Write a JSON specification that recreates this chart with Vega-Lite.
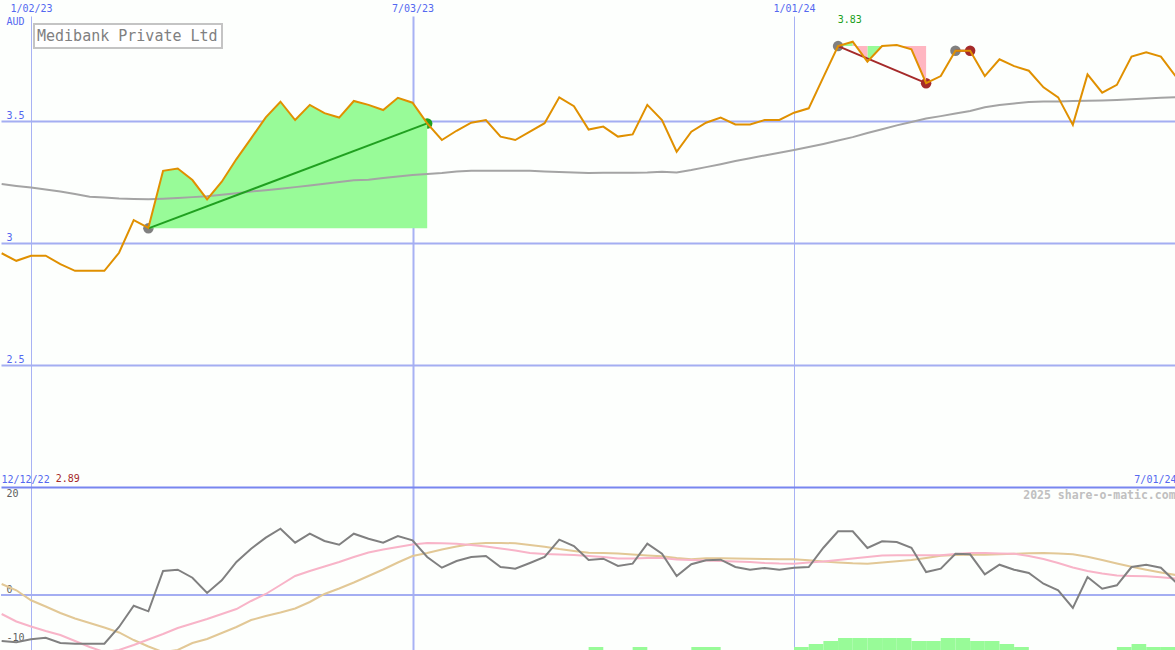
{
  "$schema": "https://vega.github.io/schema/vega-lite/v6.json",
  "padding": 0,
  "background": "#fdfffd",
  "spacing": 0,
  "bounds": "flush",
  "config": {
    "view": {"stroke": null},
    "font": "DejaVu Sans Mono",
    "axis": {"minExtent": 0, "labelFont": "DejaVu Sans Mono", "titleFont": "DejaVu Sans Mono", "ticks": false, "tickSize": 0, "domain": false},
    "legend": {"strokeWidth": 2}
  },
  "datasets": {
    "price": [
      {"date": "2022-12-19", "price": 2.958, "ma": 3.242},
      {"date": "2022-12-26", "price": 2.927, "ma": 3.234},
      {"date": "2023-01-02", "price": 2.948, "ma": 3.227},
      {"date": "2023-01-09", "price": 2.948, "ma": 3.219},
      {"date": "2023-01-16", "price": 2.913, "ma": 3.211},
      {"date": "2023-01-23", "price": 2.886, "ma": 3.201},
      {"date": "2023-01-30", "price": 2.886, "ma": 3.190},
      {"date": "2023-02-06", "price": 2.886, "ma": 3.186},
      {"date": "2023-02-13", "price": 2.960, "ma": 3.182},
      {"date": "2023-02-20", "price": 3.094, "ma": 3.180},
      {"date": "2023-02-27", "price": 3.062, "ma": 3.179},
      {"date": "2023-03-06", "price": 3.296, "ma": 3.181},
      {"date": "2023-03-13", "price": 3.305, "ma": 3.184},
      {"date": "2023-03-20", "price": 3.258, "ma": 3.188},
      {"date": "2023-03-27", "price": 3.179, "ma": 3.192},
      {"date": "2023-04-03", "price": 3.251, "ma": 3.198},
      {"date": "2023-04-10", "price": 3.344, "ma": 3.204},
      {"date": "2023-04-17", "price": 3.429, "ma": 3.211},
      {"date": "2023-04-24", "price": 3.515, "ma": 3.216},
      {"date": "2023-05-01", "price": 3.579, "ma": 3.222},
      {"date": "2023-05-08", "price": 3.504, "ma": 3.229},
      {"date": "2023-05-15", "price": 3.566, "ma": 3.236},
      {"date": "2023-05-22", "price": 3.532, "ma": 3.243},
      {"date": "2023-05-29", "price": 3.514, "ma": 3.250},
      {"date": "2023-06-05", "price": 3.582, "ma": 3.257},
      {"date": "2023-06-12", "price": 3.566, "ma": 3.259},
      {"date": "2023-06-19", "price": 3.545, "ma": 3.266},
      {"date": "2023-06-26", "price": 3.595, "ma": 3.273},
      {"date": "2023-07-03", "price": 3.575, "ma": 3.279},
      {"date": "2023-07-10", "price": 3.490, "ma": 3.283},
      {"date": "2023-07-17", "price": 3.422, "ma": 3.287},
      {"date": "2023-07-24", "price": 3.460, "ma": 3.293},
      {"date": "2023-07-31", "price": 3.493, "ma": 3.296},
      {"date": "2023-08-07", "price": 3.504, "ma": 3.296},
      {"date": "2023-08-14", "price": 3.436, "ma": 3.296},
      {"date": "2023-08-21", "price": 3.422, "ma": 3.296},
      {"date": "2023-08-28", "price": 3.456, "ma": 3.296},
      {"date": "2023-09-04", "price": 3.491, "ma": 3.293},
      {"date": "2023-09-11", "price": 3.597, "ma": 3.291},
      {"date": "2023-09-18", "price": 3.561, "ma": 3.289},
      {"date": "2023-09-25", "price": 3.465, "ma": 3.287},
      {"date": "2023-10-02", "price": 3.477, "ma": 3.288},
      {"date": "2023-10-09", "price": 3.436, "ma": 3.288},
      {"date": "2023-10-16", "price": 3.445, "ma": 3.288},
      {"date": "2023-10-23", "price": 3.566, "ma": 3.289},
      {"date": "2023-10-30", "price": 3.504, "ma": 3.292},
      {"date": "2023-11-06", "price": 3.374, "ma": 3.289},
      {"date": "2023-11-13", "price": 3.456, "ma": 3.299},
      {"date": "2023-11-20", "price": 3.493, "ma": 3.311},
      {"date": "2023-11-27", "price": 3.514, "ma": 3.323},
      {"date": "2023-12-04", "price": 3.486, "ma": 3.336},
      {"date": "2023-12-11", "price": 3.486, "ma": 3.347},
      {"date": "2023-12-18", "price": 3.504, "ma": 3.359},
      {"date": "2023-12-25", "price": 3.504, "ma": 3.370},
      {"date": "2024-01-01", "price": 3.534, "ma": 3.381},
      {"date": "2024-01-08", "price": 3.552, "ma": 3.393},
      {"date": "2024-01-15", "price": 3.680, "ma": 3.406},
      {"date": "2024-01-22", "price": 3.807, "ma": 3.420},
      {"date": "2024-01-29", "price": 3.825, "ma": 3.434},
      {"date": "2024-02-05", "price": 3.743, "ma": 3.451},
      {"date": "2024-02-12", "price": 3.807, "ma": 3.466},
      {"date": "2024-02-19", "price": 3.811, "ma": 3.482},
      {"date": "2024-02-26", "price": 3.794, "ma": 3.496},
      {"date": "2024-03-04", "price": 3.655, "ma": 3.510},
      {"date": "2024-03-11", "price": 3.684, "ma": 3.520},
      {"date": "2024-03-18", "price": 3.788, "ma": 3.531},
      {"date": "2024-03-25", "price": 3.788, "ma": 3.541},
      {"date": "2024-04-01", "price": 3.684, "ma": 3.556},
      {"date": "2024-04-08", "price": 3.753, "ma": 3.566},
      {"date": "2024-04-15", "price": 3.725, "ma": 3.572},
      {"date": "2024-04-22", "price": 3.706, "ma": 3.578},
      {"date": "2024-04-29", "price": 3.638, "ma": 3.580},
      {"date": "2024-05-06", "price": 3.597, "ma": 3.580},
      {"date": "2024-05-13", "price": 3.484, "ma": 3.582},
      {"date": "2024-05-20", "price": 3.691, "ma": 3.583},
      {"date": "2024-05-27", "price": 3.616, "ma": 3.584},
      {"date": "2024-06-03", "price": 3.648, "ma": 3.586},
      {"date": "2024-06-10", "price": 3.764, "ma": 3.589},
      {"date": "2024-06-17", "price": 3.782, "ma": 3.592},
      {"date": "2024-06-24", "price": 3.764, "ma": 3.595},
      {"date": "2024-07-01", "price": 3.684, "ma": 3.597}
    ],
    "fill1": [
      {"date": "2023-02-27", "price": 3.062},
      {"date": "2023-03-06", "price": 3.296},
      {"date": "2023-03-13", "price": 3.305},
      {"date": "2023-03-20", "price": 3.258},
      {"date": "2023-03-27", "price": 3.179},
      {"date": "2023-04-03", "price": 3.251},
      {"date": "2023-04-10", "price": 3.344},
      {"date": "2023-04-17", "price": 3.429},
      {"date": "2023-04-24", "price": 3.515},
      {"date": "2023-05-01", "price": 3.579},
      {"date": "2023-05-08", "price": 3.504},
      {"date": "2023-05-15", "price": 3.566},
      {"date": "2023-05-22", "price": 3.532},
      {"date": "2023-05-29", "price": 3.514},
      {"date": "2023-06-05", "price": 3.582},
      {"date": "2023-06-12", "price": 3.566},
      {"date": "2023-06-19", "price": 3.545},
      {"date": "2023-06-26", "price": 3.595},
      {"date": "2023-07-03", "price": 3.575},
      {"date": "2023-07-10", "price": 3.490}
    ],
    "fill2": [
      {"seg": "a", "fill": "up", "date": "2024-01-22", "price": 3.807},
      {"seg": "a", "fill": "up", "date": "2024-01-29", "price": 3.825},
      {"seg": "b", "fill": "down", "date": "2024-01-29", "price": 3.825},
      {"seg": "b", "fill": "down", "date": "2024-02-05", "price": 3.743},
      {"seg": "c", "fill": "up", "date": "2024-02-05", "price": 3.743},
      {"seg": "c", "fill": "up", "date": "2024-02-12", "price": 3.807},
      {"seg": "c", "fill": "up", "date": "2024-02-19", "price": 3.811},
      {"seg": "d", "fill": "down", "date": "2024-02-19", "price": 3.811},
      {"seg": "d", "fill": "down", "date": "2024-02-26", "price": 3.794},
      {"seg": "d", "fill": "down", "date": "2024-03-04", "price": 3.655}
    ],
    "trades": [
      {"trade": "1", "role": "entry", "result": "win", "date": "2023-02-27", "price": 3.06},
      {"trade": "1", "role": "exit", "result": "win", "date": "2023-07-10", "price": 3.49},
      {"trade": "2", "role": "entry", "result": "loss", "date": "2024-01-22", "price": 3.807},
      {"trade": "2", "role": "exit", "result": "loss", "date": "2024-03-04", "price": 3.655},
      {"trade": "3", "role": "entry", "result": "loss", "date": "2024-03-18", "price": 3.788},
      {"trade": "3", "role": "exit", "result": "loss", "date": "2024-03-25", "price": 3.788}
    ],
    "peak": [
      {"date": "2024-01-29", "price": 3.83, "label": "3.83"}
    ],
    "osc": [
      {"date": "2022-12-19", "osc": -9.58, "sig": -3.96, "slow": 2.29},
      {"date": "2022-12-26", "osc": -9.85, "sig": -5.52, "slow": 0.98},
      {"date": "2023-01-02", "osc": -9.23, "sig": -6.56, "slow": -1.1},
      {"date": "2023-01-09", "osc": -8.9, "sig": -7.5, "slow": -2.4},
      {"date": "2023-01-16", "osc": -10.0, "sig": -8.33, "slow": -3.75},
      {"date": "2023-01-23", "osc": -10.15, "sig": -9.58, "slow": -4.9},
      {"date": "2023-01-30", "osc": -10.15, "sig": -10.83, "slow": -5.83},
      {"date": "2023-02-06", "osc": -10.15, "sig": -11.9, "slow": -6.77},
      {"date": "2023-02-13", "osc": -6.67, "sig": -11.46, "slow": -7.81},
      {"date": "2023-02-20", "osc": -2.23, "sig": -10.42, "slow": -9.38},
      {"date": "2023-02-27", "osc": -3.4, "sig": -9.27, "slow": -10.73},
      {"date": "2023-03-06", "osc": 5.0, "sig": -8.13, "slow": -11.9},
      {"date": "2023-03-13", "osc": 5.27, "sig": -6.88, "slow": -11.46},
      {"date": "2023-03-20", "osc": 3.6, "sig": -5.94, "slow": -10.0},
      {"date": "2023-03-27", "osc": 0.42, "sig": -5.0, "slow": -9.17},
      {"date": "2023-04-03", "osc": 3.06, "sig": -3.96, "slow": -7.92},
      {"date": "2023-04-10", "osc": 6.88, "sig": -2.92, "slow": -6.67},
      {"date": "2023-04-17", "osc": 9.65, "sig": -1.25, "slow": -5.21},
      {"date": "2023-04-24", "osc": 11.94, "sig": 0.21, "slow": -4.38},
      {"date": "2023-05-01", "osc": 13.81, "sig": 2.08, "slow": -3.65},
      {"date": "2023-05-08", "osc": 10.9, "sig": 3.96, "slow": -2.81},
      {"date": "2023-05-15", "osc": 12.77, "sig": 5.0, "slow": -1.46},
      {"date": "2023-05-22", "osc": 11.25, "sig": 5.94, "slow": 0.21},
      {"date": "2023-05-29", "osc": 10.48, "sig": 6.88, "slow": 1.35},
      {"date": "2023-06-05", "osc": 12.77, "sig": 7.92, "slow": 2.6},
      {"date": "2023-06-12", "osc": 11.73, "sig": 8.85, "slow": 3.96},
      {"date": "2023-06-19", "osc": 10.9, "sig": 9.48, "slow": 5.31},
      {"date": "2023-06-26", "osc": 12.29, "sig": 10.0, "slow": 6.77},
      {"date": "2023-07-03", "osc": 11.4, "sig": 10.52, "slow": 8.13},
      {"date": "2023-07-10", "osc": 7.92, "sig": 10.83, "slow": 8.75},
      {"date": "2023-07-17", "osc": 5.69, "sig": 10.77, "slow": 9.48},
      {"date": "2023-07-24", "osc": 7.08, "sig": 10.67, "slow": 10.1},
      {"date": "2023-07-31", "osc": 7.92, "sig": 10.42, "slow": 10.63},
      {"date": "2023-08-07", "osc": 8.13, "sig": 10.1, "slow": 10.83},
      {"date": "2023-08-14", "osc": 5.83, "sig": 9.69, "slow": 10.83},
      {"date": "2023-08-21", "osc": 5.48, "sig": 9.27, "slow": 10.79},
      {"date": "2023-08-28", "osc": 6.67, "sig": 8.75, "slow": 10.42},
      {"date": "2023-09-04", "osc": 7.92, "sig": 8.54, "slow": 10.06},
      {"date": "2023-09-11", "osc": 11.52, "sig": 8.44, "slow": 9.58},
      {"date": "2023-09-18", "osc": 10.21, "sig": 8.33, "slow": 9.17},
      {"date": "2023-09-25", "osc": 7.3, "sig": 8.13, "slow": 8.81},
      {"date": "2023-10-02", "osc": 7.56, "sig": 7.92, "slow": 8.75},
      {"date": "2023-10-09", "osc": 6.04, "sig": 7.6, "slow": 8.65},
      {"date": "2023-10-16", "osc": 6.52, "sig": 7.6, "slow": 8.44},
      {"date": "2023-10-23", "osc": 10.69, "sig": 7.71, "slow": 8.23},
      {"date": "2023-10-30", "osc": 8.6, "sig": 7.71, "slow": 8.06},
      {"date": "2023-11-06", "osc": 3.96, "sig": 7.4, "slow": 7.71},
      {"date": "2023-11-13", "osc": 6.4, "sig": 7.29, "slow": 7.44},
      {"date": "2023-11-20", "osc": 7.23, "sig": 7.19, "slow": 7.65},
      {"date": "2023-11-27", "osc": 7.35, "sig": 7.08, "slow": 7.65},
      {"date": "2023-12-04", "osc": 5.83, "sig": 6.98, "slow": 7.6},
      {"date": "2023-12-11", "osc": 5.27, "sig": 6.88, "slow": 7.56},
      {"date": "2023-12-18", "osc": 5.63, "sig": 6.67, "slow": 7.5},
      {"date": "2023-12-25", "osc": 5.27, "sig": 6.56, "slow": 7.46},
      {"date": "2024-01-01", "osc": 5.69, "sig": 6.52, "slow": 7.44},
      {"date": "2024-01-08", "osc": 5.83, "sig": 6.77, "slow": 7.23},
      {"date": "2024-01-15", "osc": 9.85, "sig": 6.98, "slow": 6.98},
      {"date": "2024-01-22", "osc": 13.27, "sig": 7.29, "slow": 6.77},
      {"date": "2024-01-29", "osc": 13.27, "sig": 7.6, "slow": 6.6},
      {"date": "2024-02-05", "osc": 9.79, "sig": 7.92, "slow": 6.52},
      {"date": "2024-02-12", "osc": 11.19, "sig": 8.23, "slow": 6.77},
      {"date": "2024-02-19", "osc": 11.04, "sig": 8.27, "slow": 7.02},
      {"date": "2024-02-26", "osc": 9.85, "sig": 8.27, "slow": 7.29},
      {"date": "2024-03-04", "osc": 4.79, "sig": 8.27, "slow": 7.71},
      {"date": "2024-03-11", "osc": 5.48, "sig": 8.27, "slow": 8.17},
      {"date": "2024-03-18", "osc": 8.6, "sig": 8.54, "slow": 8.33},
      {"date": "2024-03-25", "osc": 8.48, "sig": 8.75, "slow": 8.38},
      {"date": "2024-04-01", "osc": 4.31, "sig": 8.75, "slow": 8.4},
      {"date": "2024-04-08", "osc": 6.31, "sig": 8.65, "slow": 8.48},
      {"date": "2024-04-15", "osc": 5.27, "sig": 8.6, "slow": 8.58},
      {"date": "2024-04-22", "osc": 4.58, "sig": 8.13, "slow": 8.69},
      {"date": "2024-04-29", "osc": 2.35, "sig": 7.5, "slow": 8.73},
      {"date": "2024-05-06", "osc": 0.98, "sig": 6.67, "slow": 8.63},
      {"date": "2024-05-13", "osc": -2.71, "sig": 5.73, "slow": 8.5},
      {"date": "2024-05-20", "osc": 3.75, "sig": 5.0, "slow": 7.96},
      {"date": "2024-05-27", "osc": 1.31, "sig": 4.48, "slow": 7.29},
      {"date": "2024-06-03", "osc": 2.02, "sig": 4.06, "slow": 6.56},
      {"date": "2024-06-10", "osc": 5.83, "sig": 3.96, "slow": 5.9},
      {"date": "2024-06-17", "osc": 6.31, "sig": 3.92, "slow": 5.27},
      {"date": "2024-06-24", "osc": 5.69, "sig": 3.69, "slow": 4.69},
      {"date": "2024-07-01", "osc": 2.71, "sig": 3.44, "slow": 4.17}
    ],
    "bars": [
      {"start": "2023-09-25", "end": "2023-10-02", "level": 1},
      {"start": "2023-10-16", "end": "2023-10-23", "level": 1},
      {"start": "2023-11-13", "end": "2023-11-20", "level": 1},
      {"start": "2023-11-20", "end": "2023-11-27", "level": 1},
      {"start": "2024-01-01", "end": "2024-01-08", "level": 1},
      {"start": "2024-01-08", "end": "2024-01-15", "level": 2},
      {"start": "2024-01-15", "end": "2024-01-22", "level": 3},
      {"start": "2024-01-22", "end": "2024-01-29", "level": 4},
      {"start": "2024-01-29", "end": "2024-02-05", "level": 4},
      {"start": "2024-02-05", "end": "2024-02-12", "level": 4},
      {"start": "2024-02-12", "end": "2024-02-19", "level": 4},
      {"start": "2024-02-19", "end": "2024-02-26", "level": 4},
      {"start": "2024-02-26", "end": "2024-03-04", "level": 3},
      {"start": "2024-03-04", "end": "2024-03-11", "level": 3},
      {"start": "2024-03-11", "end": "2024-03-18", "level": 4},
      {"start": "2024-03-18", "end": "2024-03-25", "level": 4},
      {"start": "2024-03-25", "end": "2024-04-01", "level": 3},
      {"start": "2024-04-01", "end": "2024-04-08", "level": 3},
      {"start": "2024-04-08", "end": "2024-04-15", "level": 2},
      {"start": "2024-04-15", "end": "2024-04-22", "level": 1},
      {"start": "2024-06-03", "end": "2024-06-10", "level": 1},
      {"start": "2024-06-10", "end": "2024-06-17", "level": 2},
      {"start": "2024-06-17", "end": "2024-06-24", "level": 1},
      {"start": "2024-06-24", "end": "2024-07-01", "level": 1}
    ],
    "notes": [
      {"date": "2022-12-19", "label": "2.89"}
    ],
    "credit": [
      {"date": "2024-07-01", "label": "2025 share-o-matic.com"}
    ],
    "zero": [
      {"level": 0}
    ]
  },
  "vconcat": [
    {
      "width": 1175,
      "height": 471,
      "encoding": {
        "x": {
          "field": "date", "type": "temporal",
          "scale": {"type": "utc", "domain": [{"year": 2022, "month": 12, "date": 18, "hours": 16, "minutes": 30, "utc": true}, {"year": 2024, "month": 7, "date": 1, "hours": 5, "utc": true}]},
          "axis": {
            "orient": "top",
            "values": [{"year": 2023, "month": 1, "date": 2, "utc": true}, {"year": 2023, "month": 7, "date": 3, "utc": true}, {"year": 2024, "month": 1, "date": 1, "utc": true}],
            "format": "%-m/%d/%y",
            "labelColor": "#5468f0", "labelFontSize": 10, "labelPadding": 3, "labelFont": "DejaVu Sans Mono",
            "grid": true, "gridColor": "#a8b2f4",
            "gridWidth": {"condition": {"test": "utcmonth(datum.value) === 6", "value": 2}, "value": 1},
            "domain": false, "ticks": false, "title": null, "minExtent": 16
          }
        },
        "y": {
          "field": "price", "type": "quantitative",
          "scale": {"domain": [2.0, 3.9303], "nice": false, "zero": false},
          "axis": {
            "orient": "left", "values": [2.5, 3, 3.5], "labelExpr": "'' + datum.value",
            "labelAlign": "left", "labelBaseline": "bottom", "labelPadding": -5,
            "labelColor": "#5468f0", "labelFontSize": 10, "labelFont": "DejaVu Sans Mono",
            "grid": true, "gridColor": "#a4aef2", "gridWidth": 2,
            "domain": false, "ticks": false, "minExtent": 0,
            "title": "AUD", "titleAngle": 0, "titleX": 5, "titleY": 8, "titleAlign": "left", "titleBaseline": "alphabetic",
            "titleColor": "#5468f0", "titleFontSize": 10, "titleFontWeight": "normal", "titleFont": "DejaVu Sans Mono"
          }
        }
      },
      "layer": [
        {
          "data": {"name": "trades"},
          "transform": [{"filter": "datum.role === 'entry'"}],
          "mark": {"type": "circle", "size": 110, "color": "#808080", "opacity": 1}
        },
        {
          "data": {"name": "trades"},
          "transform": [{"filter": "datum.role === 'exit' && datum.result === 'win'"}],
          "mark": {"type": "circle", "size": 110, "color": "#20a020", "opacity": 1}
        },
        {
          "data": {"name": "trades"},
          "transform": [{"filter": "datum.role === 'exit' && datum.result === 'loss'"}],
          "mark": {"type": "circle", "size": 110, "color": "#a52a2a", "opacity": 1}
        },
        {
          "data": {"name": "fill1"},
          "mark": {"type": "area", "color": "#98fb98", "opacity": 1, "clip": true},
          "encoding": {"y2": {"datum": 3.06}}
        },
        {
          "data": {"name": "fill2"},
          "transform": [{"filter": "datum.fill === 'up'"}],
          "mark": {"type": "area", "color": "#98fb98", "opacity": 1, "clip": true},
          "encoding": {"y2": {"datum": 3.807}, "detail": {"field": "seg", "type": "nominal"}}
        },
        {
          "data": {"name": "fill2"},
          "transform": [{"filter": "datum.fill === 'down'"}],
          "mark": {"type": "area", "color": "#ffb6c1", "opacity": 1, "clip": true},
          "encoding": {"y2": {"datum": 3.807}, "detail": {"field": "seg", "type": "nominal"}}
        },
        {
          "data": {"name": "price"},
          "mark": {"type": "line", "color": "#a4a4a4", "strokeWidth": 2, "clip": true},
          "encoding": {
            "y": {
              "field": "ma", "type": "quantitative",
              "scale": {"domain": [2.0, 3.9303], "nice": false, "zero": false},
              "axis": {
                "orient": "left", "values": [2.5, 3, 3.5], "labelExpr": "'' + datum.value",
                "labelAlign": "left", "labelBaseline": "bottom", "labelPadding": -5,
                "labelColor": "#5468f0", "labelFontSize": 10, "labelFont": "DejaVu Sans Mono",
                "grid": true, "gridColor": "#a4aef2", "gridWidth": 2,
                "domain": false, "ticks": false, "minExtent": 0,
                "title": "AUD", "titleAngle": 0, "titleX": 5, "titleY": 8, "titleAlign": "left", "titleBaseline": "alphabetic",
                "titleColor": "#5468f0", "titleFontSize": 10, "titleFontWeight": "normal", "titleFont": "DejaVu Sans Mono"
              }
            }
          }
        },
        {
          "data": {"name": "trades"},
          "transform": [{"filter": "datum.result === 'win'"}],
          "mark": {"type": "line", "color": "#20a020", "strokeWidth": 2, "clip": true},
          "encoding": {"detail": {"field": "trade", "type": "nominal"}}
        },
        {
          "data": {"name": "trades"},
          "transform": [{"filter": "datum.result === 'loss'"}],
          "mark": {"type": "line", "color": "#a52a2a", "strokeWidth": 2, "clip": true},
          "encoding": {"detail": {"field": "trade", "type": "nominal"}}
        },
        {
          "data": {"name": "price"},
          "mark": {"type": "line", "strokeWidth": 2, "clip": true},
          "encoding": {
            "color": {
              "datum": "Medibank Private Ltd",
              "type": "nominal",
              "scale": {"range": ["#e09000"]},
              "legend": {
                "orient": "none", "legendX": 33, "legendY": 8, "title": null,
                "labelFont": "DejaVu Sans Mono", "labelFontSize": 15, "labelColor": "#808080", "labelLimit": 0,
                "symbolSize": 0, "symbolStrokeWidth": 0, "symbolOpacity": 0, "labelOffset": -16,
                "padding": 4, "strokeColor": "#c4c4c4", "fillColor": "#ffffff"
              }
            }
          }
        },
        {
          "data": {"name": "peak"},
          "mark": {"type": "text", "color": "#20a020", "fontSize": 10, "font": "DejaVu Sans Mono", "dy": -20, "dx": -3, "baseline": "middle", "align": "center"},
          "encoding": {"text": {"field": "label", "type": "nominal"}}
        }
      ]
    },
    {
      "width": 1175,
      "height": 163,
      "resolve": {"scale": {"y": "independent"}, "axis": {"x": "independent", "y": "independent"}},
      "layer": [
        {
          "data": {"name": "bars"},
          "mark": {"type": "rect", "color": "#98fb98", "opacity": 1},
          "encoding": {
            "x": {
              "field": "start", "type": "temporal",
              "scale": {"type": "utc", "domain": [{"year": 2022, "month": 12, "date": 18, "hours": 16, "minutes": 30, "utc": true}, {"year": 2024, "month": 7, "date": 1, "hours": 5, "utc": true}]},
              "axis": {
                "orient": "top",
                "values": [{"year": 2023, "month": 1, "date": 2, "utc": true}, {"year": 2023, "month": 7, "date": 3, "utc": true}, {"year": 2024, "month": 1, "date": 1, "utc": true}],
                "labels": false, "grid": true, "gridColor": "#a8b2f4",
                "gridWidth": {"condition": {"test": "utcmonth(datum.value) === 6", "value": 2}, "value": 1},
                "domain": true, "domainColor": "#7886f0", "domainWidth": 2,
                "ticks": false, "title": null, "minExtent": 0
              }
            },
            "x2": {"field": "end"},
            "y": {"field": "level", "type": "quantitative", "scale": {"domain": [0, 54.33], "nice": false, "zero": false}, "axis": null},
            "y2": {"datum": 0}
          }
        },
        {
          "data": {"name": "zero"},
          "mark": {"type": "rule", "color": "#a4aef2", "strokeWidth": 2},
          "encoding": {
            "y": {"field": "level", "type": "quantitative", "scale": {"domain": [-11.46, 22.5], "nice": false, "zero": false}, "axis": null}
          }
        },
        {
          "encoding": {
            "x": {
              "field": "date", "type": "temporal",
              "scale": {"type": "utc", "domain": [{"year": 2022, "month": 12, "date": 18, "hours": 16, "minutes": 30, "utc": true}, {"year": 2024, "month": 7, "date": 1, "hours": 5, "utc": true}]},
              "axis": {
                "orient": "top",
                "values": [{"year": 2022, "month": 12, "date": 18, "hours": 16, "minutes": 30, "utc": true}, {"year": 2024, "month": 7, "date": 1, "hours": 5, "utc": true}],
                "labelExpr": "utcyear(datum.value) < 2023 ? '12/12/22' : '7/01/24'",
                "labelFlush": true, "labelColor": "#5468f0", "labelFontSize": 10, "labelPadding": 3, "labelFont": "DejaVu Sans Mono",
                "grid": false, "domain": false, "ticks": false, "title": null, "minExtent": 0
              }
            }
          },
          "layer": [
            {
              "data": {"name": "osc"},
              "mark": {"type": "line", "color": "#e2c896", "strokeWidth": 2, "clip": true},
              "encoding": {
                "y": {
                  "field": "slow", "type": "quantitative",
                  "scale": {"domain": [-11.46, 22.5], "nice": false, "zero": false},
                  "axis": {"orient": "left", "values": [20, 0, -10], "labelExpr": "'' + datum.value", "labelAlign": "left", "labelBaseline": "bottom", "labelPadding": -5, "labelColor": "#606060", "labelFontSize": 10, "labelFont": "DejaVu Sans Mono", "grid": false, "domain": false, "ticks": false, "title": null, "minExtent": 0}
                }
              }
            },
            {
              "data": {"name": "osc"},
              "mark": {"type": "line", "color": "#f8b4c8", "strokeWidth": 2, "clip": true},
              "encoding": {
                "y": {
                  "field": "sig", "type": "quantitative",
                  "scale": {"domain": [-11.46, 22.5], "nice": false, "zero": false},
                  "axis": {"orient": "left", "values": [20, 0, -10], "labelExpr": "'' + datum.value", "labelAlign": "left", "labelBaseline": "bottom", "labelPadding": -5, "labelColor": "#606060", "labelFontSize": 10, "labelFont": "DejaVu Sans Mono", "grid": false, "domain": false, "ticks": false, "title": null, "minExtent": 0}
                }
              }
            },
            {
              "data": {"name": "osc"},
              "mark": {"type": "line", "color": "#808080", "strokeWidth": 2, "clip": true},
              "encoding": {
                "y": {
                  "field": "osc", "type": "quantitative",
                  "scale": {"domain": [-11.46, 22.5], "nice": false, "zero": false},
                  "axis": {"orient": "left", "values": [20, 0, -10], "labelExpr": "'' + datum.value", "labelAlign": "left", "labelBaseline": "bottom", "labelPadding": -5, "labelColor": "#606060", "labelFontSize": 10, "labelFont": "DejaVu Sans Mono", "grid": false, "domain": false, "ticks": false, "title": null, "minExtent": 0}
                }
              }
            },
            {
              "data": {"name": "notes"},
              "mark": {"type": "text", "color": "#a52a2a", "fontSize": 10, "font": "DejaVu Sans Mono", "align": "left", "baseline": "bottom", "dx": 54, "dy": -3},
              "encoding": {
                "y": {
                  "datum": 22.5, "type": "quantitative",
                  "scale": {"domain": [-11.46, 22.5], "nice": false, "zero": false},
                  "axis": {"orient": "left", "values": [20, 0, -10], "labelExpr": "'' + datum.value", "labelAlign": "left", "labelBaseline": "bottom", "labelPadding": -5, "labelColor": "#606060", "labelFontSize": 10, "labelFont": "DejaVu Sans Mono", "grid": false, "domain": false, "ticks": false, "title": null, "minExtent": 0}
                },
                "text": {"field": "label", "type": "nominal"}
              }
            },
            {
              "data": {"name": "credit"},
              "mark": {"type": "text", "color": "#c0c0c0", "fontSize": 11.5, "fontWeight": "bold", "font": "DejaVu Sans Mono", "align": "right", "baseline": "top", "dx": 0, "dy": 3},
              "encoding": {
                "y": {
                  "datum": 22.5, "type": "quantitative",
                  "scale": {"domain": [-11.46, 22.5], "nice": false, "zero": false},
                  "axis": {"orient": "left", "values": [20, 0, -10], "labelExpr": "'' + datum.value", "labelAlign": "left", "labelBaseline": "bottom", "labelPadding": -5, "labelColor": "#606060", "labelFontSize": 10, "labelFont": "DejaVu Sans Mono", "grid": false, "domain": false, "ticks": false, "title": null, "minExtent": 0}
                },
                "text": {"field": "label", "type": "nominal"}
              }
            }
          ]
        }
      ]
    }
  ]
}
